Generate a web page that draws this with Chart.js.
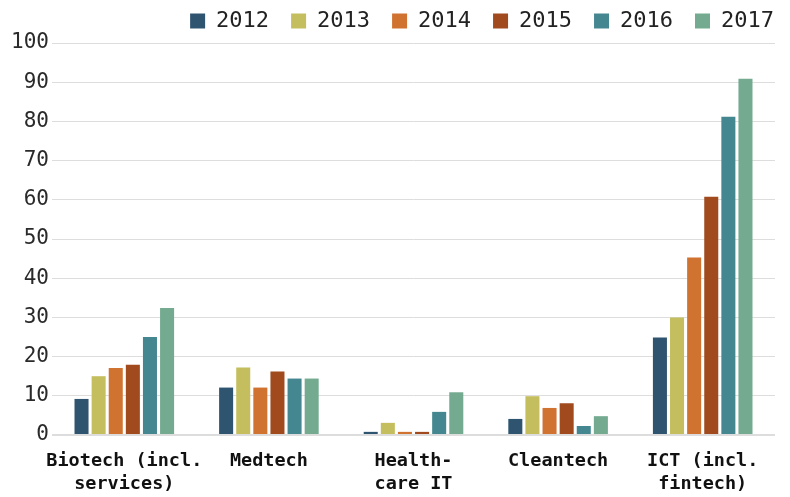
<!DOCTYPE html>
<html>
<head>
<meta charset="utf-8">
<script src="https://cdn.jsdelivr.net/npm/chart.js@4"></script>
<style>
html,body{margin:0;padding:0;background:#fff;}
#wrap{width:790px;height:497px;position:relative;}
</style>
</head>
<body>
<div id="wrap"><canvas id="c"></canvas></div>
<script>
const categories = [["Biotech (incl.","services)"],"Medtech",["Health-","care IT"],"Cleantech",["ICT (incl.","fintech)"]];
const years = ["2012","2013","2014","2015","2016","2017"];
const colors = ["#2f5470","#c4be5e","#d07230","#a04a1e","#458791","#73aa90"];
const v2012 = [9.2, 12.1, 0.8, 4.1, 24.9];
const v2013 = [15.0, 17.2, 3.1, 9.9, 30.0];
const v2014 = [17.1, 12.1, 0.8, 6.9, 45.3];
const v2015 = [17.9, 16.2, 0.8, 8.1, 60.8];
const v2016 = [25.0, 14.4, 5.9, 2.3, 81.2];
const v2017 = [32.4, 14.4, 10.9, 4.8, 90.9];
const series = [v2012, v2013, v2014, v2015, v2016, v2017];
const yTicks = [0,10,20,30,40,50,60,70,80,90,100];

const mono = "'DejaVu Sans Mono', monospace";

const legendAdjust = {
  id: 'legendAdjust',
  beforeLayout(chart) {
    const l = chart.legend;
    if (l && !l._wrapped) {
      const orig = l.fit;
      l.fit = function() { orig.call(this); this.height = 43; };
      l._wrapped = true;
    }
  },
  afterLayout(chart) {
    const l = chart.legend;
    if (l) { l.top -= 12; l.left += 21; l.right += 21; }
  }
};

new Chart(document.getElementById('c'), {
  type: 'bar',
  data: {
    labels: categories,
    datasets: series.map((d,i)=>({
      label: years[i], data: d, backgroundColor: colors[i],
      categoryPercentage: 0.71, barPercentage: 0.82
    }))
  },
  plugins: [legendAdjust],
  options: {
    responsive: true, maintainAspectRatio: false, animation: false,
    layout: {padding: {left: 0, right: 15, top: 0, bottom: 0}},
    plugins: {
      tooltip: {enabled: false},
      legend: {
        position: 'top', align: 'end',
        labels: {font: {family: mono, size: 22}, color: '#222', boxWidth: 15, boxHeight: 15, padding: 22}
      }
    },
    scales: {
      x: {
        afterFit: s => { s.height = 62; },
        grid: {display: false, drawTicks: false},
        border: {display: false},
        ticks: {font: {family: mono, size: 18.5, weight: 'bold', lineHeight: 1.28}, color: '#111', maxRotation: 0, autoSkip: false, padding: 14}
      },
      y: {
        min: 0, max: 100,
        afterFit: s => { s.width = 52; },
        afterBuildTicks: s => { s.ticks = yTicks.map(v=>({value:v})); },
        grid: {color: '#dddddd', lineWidth: c => c.tick.value === 0 ? 2 : 1, drawTicks: false},
        border: {display: false},
        ticks: {font: {family: mono, size: 21}, color: '#2a2a2a', padding: 3}
      }
    }
  }
});
</script>
</body>
</html>
